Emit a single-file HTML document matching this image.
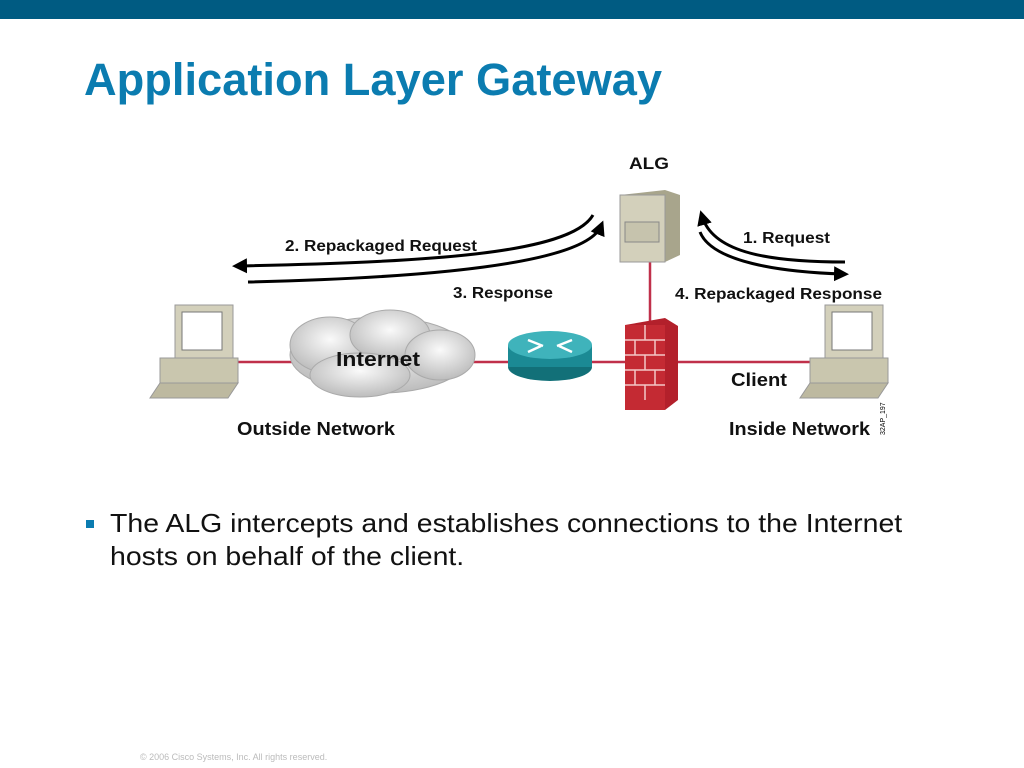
<!DOCTYPE html>
<html><head><meta charset="utf-8"><style>
body{margin:0;width:1024px;height:768px;background:#fff;position:relative;overflow:hidden;font-family:"Liberation Sans",sans-serif}
.bar{position:absolute;left:0;top:0;width:1024px;height:19px;background:#005b82}
h1{position:absolute;left:84px;top:54px;margin:0;font-size:45px;font-weight:bold;color:#0b7cb0;white-space:nowrap;transform-origin:0 0;transform:scaleX(1.005)}
.bul{position:absolute;left:110px;top:507px;font-size:26px;color:#111;line-height:33px;white-space:nowrap;transform-origin:0 0;transform:scaleX(1.094)}
.sq{position:absolute;left:86px;top:520px;width:8px;height:8px;background:#0b7cb0}
.foot{position:absolute;left:140px;top:752px;font-size:9px;color:#bbb}
</style></head><body>
<div class="bar"></div>
<h1>Application Layer Gateway</h1>
<svg width="1024" height="768" style="position:absolute;left:0;top:0" font-family="Liberation Sans, sans-serif" font-weight="bold">
<defs>
<marker id="ah" markerWidth="6" markerHeight="6" refX="3" refY="3" orient="auto" markerUnits="strokeWidth"><path d="M0,0.5 L5,3 L0,5.5z" fill="#000"/></marker>
<radialGradient id="cl" cx="0.5" cy="0.4" r="0.6"><stop offset="0" stop-color="#fafafa"/><stop offset="1" stop-color="#bcbcbc"/></radialGradient>
</defs>
<line x1="238" y1="362" x2="810" y2="362" stroke="#c0304a" stroke-width="2.5"/>
<line x1="650" y1="260" x2="650" y2="325" stroke="#c0304a" stroke-width="2.5"/>
<g fill="url(#cl)" stroke="#aaa">
<ellipse cx="380" cy="355" rx="90" ry="38"/>
<ellipse cx="330" cy="345" rx="40" ry="28"/>
<ellipse cx="390" cy="335" rx="40" ry="25"/>
<ellipse cx="440" cy="355" rx="35" ry="25"/>
<ellipse cx="360" cy="375" rx="50" ry="22"/>
</g>
<text x="336" y="366" font-size="20" textLength="84" lengthAdjust="spacingAndGlyphs" fill="#111">Internet</text>
<rect x="508" y="345" width="84" height="22" fill="#1b8a94"/>
<ellipse cx="550" cy="367" rx="42" ry="14" fill="#127078"/>
<rect x="508" y="345" width="84" height="22" fill="#1b8a94"/>
<ellipse cx="550" cy="345" rx="42" ry="14" fill="#3fb3bb"/>
<g stroke="#fff" stroke-width="2.5"><line x1="528" y1="340" x2="543" y2="346"/><line x1="572" y1="340" x2="557" y2="346"/><line x1="528" y1="352" x2="541" y2="346"/><line x1="572" y1="352" x2="559" y2="346"/></g>
<polygon points="625,325 665,318 678,326 678,400 665,410 625,400" fill="#b3202b"/>
<rect x="625" y="325" width="40" height="85" fill="#c42a33"/>
<g stroke="#f3c8c8" stroke-width="1.5"><line x1="625" y1="340" x2="665" y2="340"/><line x1="625" y1="355" x2="665" y2="355"/><line x1="625" y1="370" x2="665" y2="370"/><line x1="625" y1="385" x2="665" y2="385"/><line x1="645" y1="325" x2="645" y2="340"/><line x1="635" y1="340" x2="635" y2="355"/><line x1="655" y1="340" x2="655" y2="355"/><line x1="645" y1="355" x2="645" y2="370"/><line x1="635" y1="370" x2="635" y2="385"/><line x1="655" y1="370" x2="655" y2="385"/><line x1="645" y1="385" x2="645" y2="400"/></g>
<polygon points="620,195 665,190 680,195 680,255 665,262 620,255" fill="#a8a58c"/>
<rect x="620" y="195" width="45" height="67" fill="#d3d0bb" stroke="#999"/>
<rect x="625" y="222" width="34" height="20" fill="#c6c3ad" stroke="#888"/>
<text x="629" y="169" font-size="17" textLength="40" lengthAdjust="spacingAndGlyphs" fill="#111">ALG</text>
<g id="pc">
<rect x="175" y="305" width="58" height="55" fill="#d3d0bb" stroke="#999"/>
<rect x="182" y="312" width="40" height="38" fill="#fff" stroke="#777"/>
<rect x="160" y="358" width="78" height="25" fill="#c9c6ae" stroke="#999"/>
<polygon points="160,383 238,383 228,398 150,398" fill="#bdb9a0" stroke="#999"/>
</g>
<use href="#pc" x="650" y="0"/>
<g fill="none" stroke="#000" stroke-width="3">
<path d="M593,215 C570,255 420,262 238,266" marker-end="url(#ah)"/>
<path d="M248,282 C420,278 585,265 601,226" marker-end="url(#ah)"/>
<path d="M845,262 C760,262 712,250 702,216" marker-end="url(#ah)"/>
<path d="M700,232 C712,262 780,272 843,274" marker-end="url(#ah)"/>
</g>
<g font-size="16" fill="#111">
<text x="285" y="251" textLength="192" lengthAdjust="spacingAndGlyphs">2. Repackaged Request</text>
<text x="453" y="298" textLength="100" lengthAdjust="spacingAndGlyphs">3. Response</text>
<text x="743" y="243" textLength="87" lengthAdjust="spacingAndGlyphs">1. Request</text>
<text x="675" y="299" textLength="207" lengthAdjust="spacingAndGlyphs">4. Repackaged Response</text>
<text x="731" y="386" font-size="18" textLength="56" lengthAdjust="spacingAndGlyphs">Client</text>
<text x="237" y="435" font-size="18" textLength="158" lengthAdjust="spacingAndGlyphs">Outside Network</text>
<text x="729" y="435" font-size="18" textLength="141" lengthAdjust="spacingAndGlyphs">Inside Network</text>
</g>
<text x="0" y="0" font-size="7" font-weight="normal" transform="translate(885,435) rotate(-90)">32AP_197</text>
</svg>
<div class="sq"></div>
<div class="bul">The ALG intercepts and establishes connections to the Internet<br>hosts on behalf of the client.</div>
<div class="foot">© 2006 Cisco Systems, Inc. All rights reserved.</div>
</body></html>
